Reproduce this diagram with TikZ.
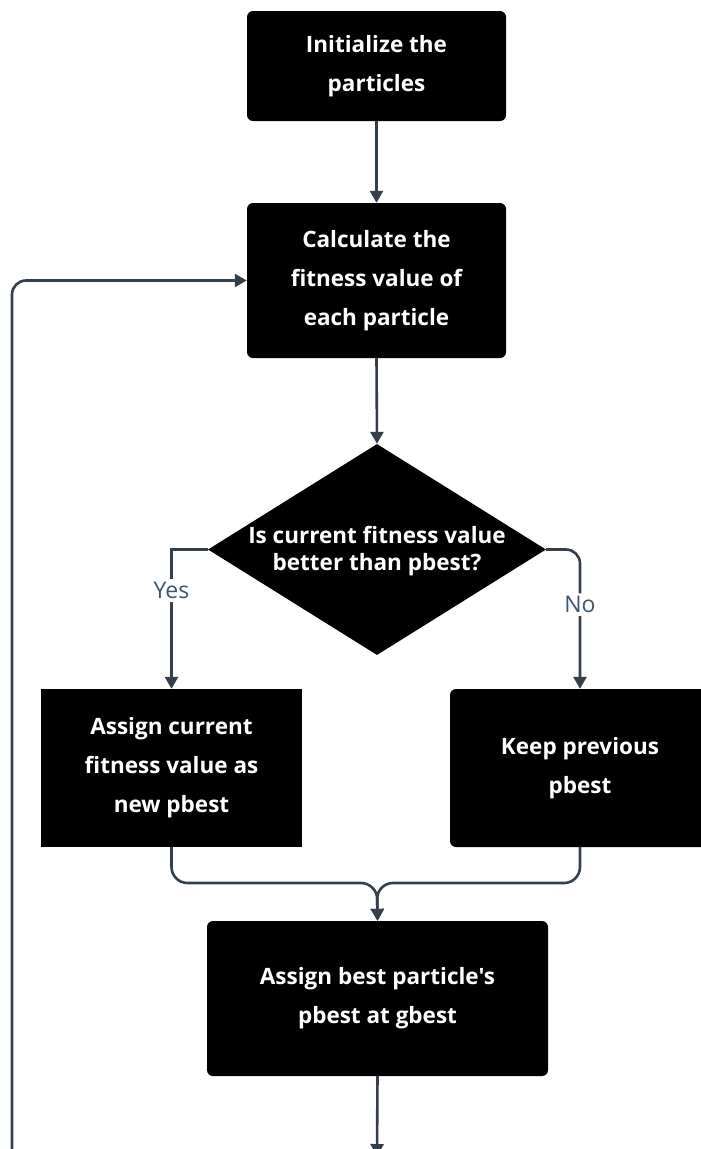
\documentclass[tikz,border=0pt]{standalone}
\usepackage{fontspec}
\setmainfont{Open Sans}[Ligatures=TeXOff]
\usetikzlibrary{arrows.meta,shapes.geometric,calc}
\definecolor{lnc}{HTML}{353F4B}
\definecolor{lblc}{HTML}{3D5670}
\tikzset{
  x=1pt,y=-1pt,
  boxr/.style={fill=black,rounded corners=6pt,inner sep=0pt,text=white,align=center,
    font=\fontsize{22.5}{39}\selectfont\bfseries},
  boxs/.style={boxr,rounded corners=0pt},
  conn/.style={draw=lnc,line width=2.6pt,-{Triangle[length=12pt,width=13pt]}},
  lbl/.style={fill=white,text=lblc,inner sep=3pt,font=\fontsize{23}{26}\selectfont},
}
\begin{document}
\begin{tikzpicture}
\useasboundingbox (0,0) rectangle (701,1149);
\node[boxr,minimum width=259pt,minimum height=110pt] (b1) at (376.5,66) {Initialize the\\particles};
\node[boxr,minimum width=259pt,minimum height=155pt] (b2) at (376.5,280.5) {Calculate the\\fitness value of\\each particle};
\node[diamond,fill=black,minimum width=338pt,minimum height=211pt,inner sep=0pt] (dec) at (377,549.5) {};
\node[text=white,align=center,font=\fontsize{22.5}{27}\selectfont\bfseries] (dect) at (377,551) {Is current fitness value\\better than pbest?};
\node[boxs,minimum width=261pt,minimum height=158pt] (b3) at (171.5,768) {Assign current\\fitness value as\\new pbest};
\node[boxr,minimum width=260pt,minimum height=158pt] (b4) at (580,768) {Keep previous\\pbest};
\node[boxr,minimum width=341pt,minimum height=155pt] (b5) at (377.5,998.5) {Assign best particle's\\pbest at gbest};
\coordinate (m) at (377,883);
\coordinate (bend) at (377,1156);
\coordinate (lb) at (12,1160);
\coordinate (lt) at (12,280.5);

\draw[conn] (b1.south) -- (b2.north);
\draw[conn] (b2.south) -- (dec.north);
\draw[conn] (dec.west) -| node[lbl,pos=0.647] (yes) {Yes} (b3.north);
\draw[conn,rounded corners=14pt] (dec.east) -| node[lbl,pos=0.698] (no) {No} (b4.north);
\draw[conn,rounded corners=16pt] (b3.south) |- (m) -- (b5.north);
\draw[conn,rounded corners=16pt] (b4.south) |- (m) -- (b5.north);
\draw[conn] (b5.south) -- (bend);
\draw[conn,rounded corners=14pt] (lb) -- (lt) -- (b2.west);
\end{tikzpicture}
\end{document}
